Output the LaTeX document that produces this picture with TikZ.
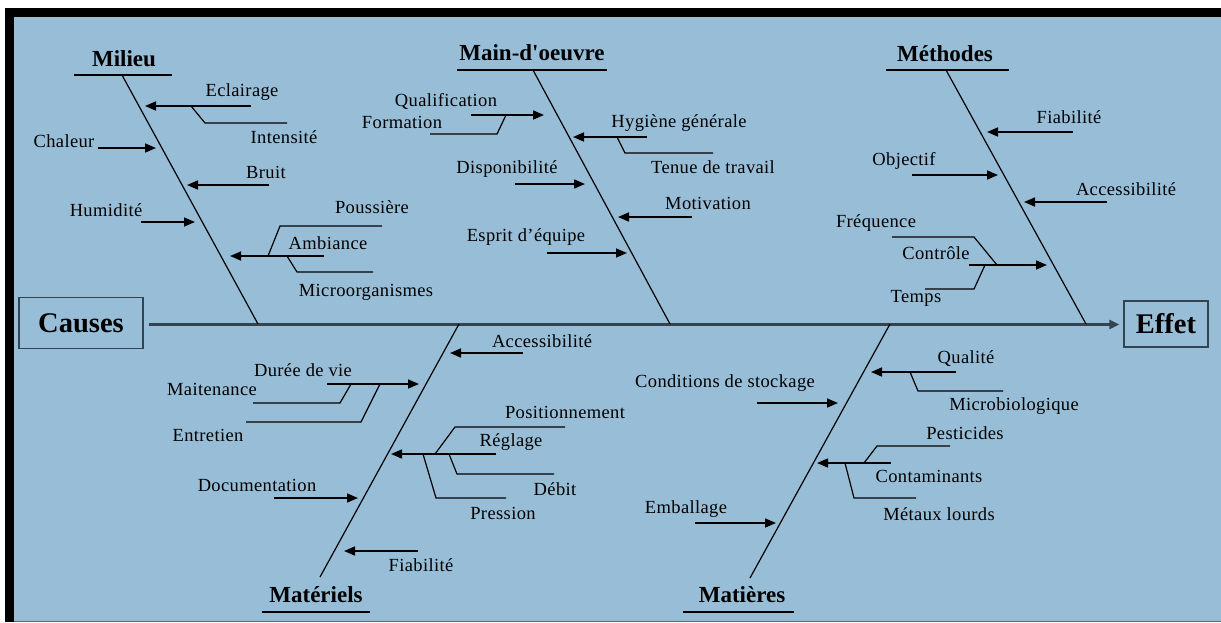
\documentclass[tikz,border=0pt]{standalone}
\usepackage{fontspec}
\setmainfont{Liberation Serif}[Ligatures=TeXOff]
\usetikzlibrary{arrows.meta}
\definecolor{fishbg}{RGB}{152,190,215}
\definecolor{spinecol}{RGB}{50,68,82}

% arrow from a start point to its tip on a bone
\newcommand\ribarrow[3]{%
  \coordinate (#1-s) at (#2);
  \coordinate (#1-t) at (#3);
  \draw[cause] (#1-s) -- (#1-t);}
% secondary cause: join point on an arrow, bend, free end
\newcommand\subrib[4]{%
  \coordinate (#1-j) at (#2);
  \coordinate (#1-b) at (#3);
  \coordinate (#1-e) at (#4);
  \draw[subline] (#1-j) -- (#1-b) -- (#1-e);}

\begin{document}
\begin{tikzpicture}[x=1pt,y=-1pt,
  cause/.style={line width=1.6pt,-{Triangle[length=11pt,width=9pt]}},
  subline/.style={line width=1.2pt},
  bone/.style={line width=1.2pt},
  lbl/.style={font=\fontsize{18.5}{20}\selectfont\addfontfeature{LetterSpace=2},inner sep=0pt},
  head/.style={font=\fontsize{23}{26}\selectfont\bfseries,inner sep=0pt},
  endbox/.style={draw=spinecol,line width=1.4pt,font=\fontsize{28.5}{32}\selectfont\bfseries,inner sep=0pt}]
\useasboundingbox (0,0) rectangle (1221,622);
% frame and background
\fill[white] (0,0) rectangle (1221,622);
\fill[black] (5,8) rectangle (1221,16.5);
\fill[black] (5,8) rectangle (14,622);
\fill[fishbg] (14,16.5) rectangle (1221,620.5);
\fill[spinecol!80] (14,620.5) rectangle (1221,622);

% cause and effect boxes with the spine
\node[endbox,minimum width=124pt,minimum height=51pt] (causes) at (81,323) {Causes};
\node[endbox,minimum width=84pt,minimum height=46pt] (effet) at (1166,324) {Effet};
\draw[spinecol,line width=2.4pt,-{Triangle[length=10pt,width=9pt]}]
  ([xshift=5pt]causes.east |- 0,324.5) -- ([xshift=-4pt]effet.west |- 0,324.5);

% category titles
\node[head] (milieu) at (124,59) {Milieu};
\node[head] (mo) at (532,53) {Main-d'oeuvre};
\node[head] (meth) at (945,54) {Méthodes};
\node[head] (mater) at (316,595) {Matériels};
\node[head] (matie) at (742,595) {Matières};
\draw[bone] (74,75) -- (172,75);
\draw[bone] (457,70) -- (607,70);
\draw[bone] (886,70) -- (1009,70);
\draw[bone] (262,612) -- (370,612);
\draw[bone] (683,612) -- (794,612);

% main bones
\coordinate (milieu-top) at (122,75);   \coordinate (milieu-foot) at (258,324);
\coordinate (mo-top) at (533,70);       \coordinate (mo-foot) at (670,324);
\coordinate (meth-top) at (946,70);     \coordinate (meth-foot) at (1086,324);
\coordinate (mater-foot) at (320,577);  \coordinate (mater-top) at (459,324);
\coordinate (matie-foot) at (750,578);  \coordinate (matie-top) at (890,324);
\draw[bone] (milieu-top) -- (milieu-foot);
\draw[bone] (mo-top) -- (mo-foot);
\draw[bone] (meth-top) -- (meth-foot);
\draw[bone] (mater-foot) -- (mater-top);
\draw[bone] (matie-foot) -- (matie-top);

% Milieu
\node[lbl] (t-ecl) at (242,92) {Eclairage};
\node[lbl] (t-int) at (284,137) {Intensité};
\node[lbl] (t-chal) at (64,141) {Chaleur};
\node[lbl] (t-bruit) at (266,172) {Bruit};
\node[lbl] (t-hum) at (106,210) {Humidité};
\node[lbl] (t-pous) at (372,207) {Poussière};
\node[lbl] (t-amb) at (328,243) {Ambiance};
\node[lbl] (t-micro) at (366,292) {Microorganismes};
\ribarrow{ecl}{251,106}{145,106}
\subrib{int}{191,106}{205,123}{287,123}
\ribarrow{chal}{98,148}{156,148}
\ribarrow{bruit}{269,185}{187,185}
\ribarrow{hum}{141,222}{195,222}
\ribarrow{amb}{324,256}{230,256}
\subrib{pous}{268,256}{280,226}{382,226}
\subrib{micro}{287,256}{297,272}{373,272}

% Main-d'oeuvre
\node[lbl] (t-qual) at (446,101) {Qualification};
\node[lbl] (t-form) at (402,122) {Formation};
\node[lbl] (t-hyg) at (679,123) {Hygiène générale};
\node[lbl] (t-tenue) at (713,167) {Tenue de travail};
\node[lbl] (t-dispo) at (507,169) {Disponibilité};
\node[lbl] (t-motiv) at (708,203) {Motivation};
\node[lbl] (t-esprit) at (526,237) {Esprit d’équipe};
\ribarrow{qual}{471,115}{544,115}
\subrib{form}{506,115}{497,134}{430,134}
\ribarrow{hyg}{647,137}{573,137}
\subrib{tenue}{617,137}{625,153}{713,153}
\ribarrow{dispo}{515,184}{585,184}
\ribarrow{motiv}{692,217}{618,217}
\ribarrow{esprit}{547,253}{627,253}

% Méthodes
\node[lbl] (t-mfiab) at (1069,117) {Fiabilité};
\node[lbl] (t-obj) at (904,161) {Objectif};
\node[lbl] (t-macc) at (1126,189) {Accessibilité};
\node[lbl] (t-freq) at (876,223) {Fréquence};
\node[lbl] (t-ctrl) at (936,253) {Contrôle};
\node[lbl] (t-temps) at (916,298) {Temps};
\ribarrow{mfiab}{1073,132}{987,132}
\ribarrow{obj}{912,175}{998,175}
\ribarrow{macc}{1107,202}{1024,202}
\ribarrow{ctrl}{969,265}{1047,265}
\subrib{freq}{997,265}{974,237}{892,237}
\subrib{temps}{985,265}{974,289}{925,289}

% Matériels
\node[lbl] (t-acc) at (542,341) {Accessibilité};
\node[lbl] (t-duree) at (303,370) {Durée de vie};
\node[lbl] (t-maint) at (212,389) {Maitenance};
\node[lbl] (t-entr) at (208,435) {Entretien};
\node[lbl] (t-pos) at (565,412) {Positionnement};
\node[lbl] (t-regl) at (511,442) {Réglage};
\node[lbl] (t-debit) at (555,489) {Débit};
\node[lbl] (t-press) at (503,513) {Pression};
\node[lbl] (t-doc) at (257,485) {Documentation};
\node[lbl] (t-fiab) at (421,565) {Fiabilité};
\ribarrow{acc}{523,353}{450,353}
\ribarrow{duree}{327,384}{419,384}
\subrib{maint}{351,384}{340,403}{253,403}
\subrib{entr}{380,384}{361,422}{246,422}
\ribarrow{regl}{496,454}{391,454}
\subrib{pos}{435,454}{455,427}{565,427}
\subrib{debit}{449,454}{457,474}{554,474}
\subrib{press}{423,454}{436,498}{506,498}
\ribarrow{doc}{274,498}{358,498}
\ribarrow{fiab}{418,551}{344,551}

% Matières
\node[lbl] (t-qlt) at (966,359) {Qualité};
\node[lbl] (t-mbio) at (1014,406) {Microbiologique};
\node[lbl] (t-cond) at (725,383) {Conditions de stockage};
\node[lbl] (t-pest) at (965,433) {Pesticides};
\node[lbl] (t-cont) at (929,476) {Contaminants};
\node[lbl] (t-met) at (939,514) {Métaux lourds};
\node[lbl] (t-emb) at (686,509) {Emballage};
\ribarrow{qlt}{956,372}{871,372}
\subrib{mbio}{910,372}{918,391}{1003,391}
\ribarrow{cond}{757,403}{838,403}
\ribarrow{cont}{891,463}{817,463}
\subrib{pest}{864,463}{877,446}{950,446}
\subrib{met}{845,463}{854,498}{916,498}
\ribarrow{emb}{695,523}{776,523}
\end{tikzpicture}
\end{document}
